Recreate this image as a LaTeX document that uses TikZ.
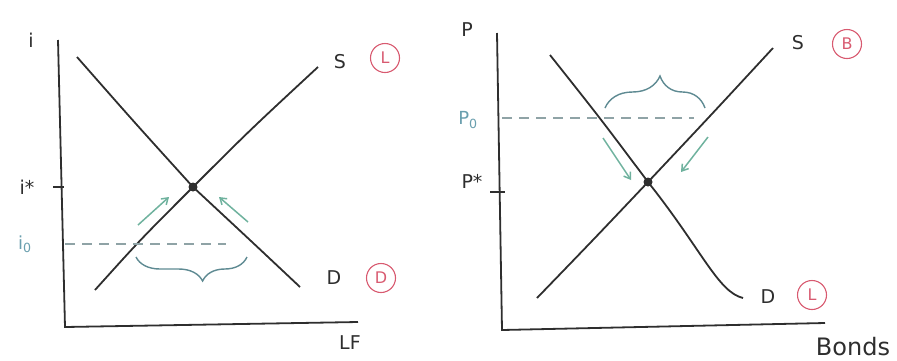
\documentclass[tikz,border=0pt]{standalone}
\usepackage{fontspec}
\setmainfont{DejaVu Sans}
\usetikzlibrary{arrows.meta,decorations.pathreplacing}
\definecolor{ink}{HTML}{2E2E2E}
\definecolor{redc}{HTML}{D85A70}
\definecolor{tealc}{HTML}{6FB29E}
\definecolor{bracec}{HTML}{5E8A92}
\definecolor{dashc}{HTML}{8FA3A6}
\definecolor{labc}{HTML}{6A9FAE}
\begin{document}
\begin{tikzpicture}[x=1pt,y=-1pt,
  axis/.style={ink,line width=1.8pt},
  curve/.style={ink,line width=1.8pt},
  lab/.style={text=ink,inner sep=0pt,font=\fontsize{19}{19}\selectfont},
  tlab/.style={text=labc,inner sep=0pt,font=\fontsize{18}{18}\selectfont},
  circ/.style={circle,draw=redc,text=redc,line width=1.1pt,inner sep=0pt,minimum size=29pt,font=\fontsize{16}{16}\selectfont},
  move/.style={tealc,line width=1.5pt,-{Straight Barb[length=6pt,width=8pt]}},
  brc/.style={bracec,line width=1.4pt,decorate},
  dsh/.style={dashc,line width=1.4pt,dash pattern=on 10pt off 7pt},
  eqdot/.style={circle,fill=ink,inner sep=0pt,minimum size=9pt},
  tickline/.style={ink,line width=1.4pt}]
\useasboundingbox (0,0) rectangle (897,360);

% ---------- left graph ----------
\coordinate (yt1) at (58,40);
\coordinate (o1) at (65,327);
\coordinate (xe1) at (358,322);
\draw[axis] (yt1) -- (o1) -- (xe1);
\node[eqdot] (eq1) at (193,187) {};
\coordinate (d1a) at (77,57);
\coordinate (d1b) at (300,287);
\coordinate (s1a) at (95,290);
\coordinate (s1b) at (318,67);
\draw[curve] (d1a) .. controls (135,123) .. (eq1.center) .. controls (250,240) .. (d1b);
\draw[curve] (s1a) .. controls (140,240) .. (eq1.center) .. controls (250,130) .. (s1b);
\coordinate (t1a) at (53,187);
\coordinate (t1b) at (64,187);
\draw[tickline] (t1a) -- (t1b);
\node[lab] (istar) at (27,187) {i*};
\coordinate (dl1a) at (65,244);
\coordinate (dl1b) at (226,244);
\draw[dsh] (dl1a) -- (dl1b);
\node[tlab] (izero) at (25,244) {i\textsubscript{0}};
\coordinate (a1s) at (138,225);
\coordinate (a1e) at (169,197);
\coordinate (a2s) at (248,222);
\coordinate (a2e) at (219,197);
\draw[move] (a1s) -- (a1e);
\draw[move] (a2s) -- (a2e);
\coordinate (b1s) at (247,257);
\coordinate (b1e) at (136,257);
\draw[brc,decoration={brace,amplitude=24pt,aspect=0.4}] (b1s) -- (b1e);
\node[lab] (iax) at (31,40) {i};
\node[lab] (lfax) at (350,343) {LF};
\node[lab] (slab1) at (340,62) {S};
\node[circ] (c1) at (385,58) {L};
\node[lab] (dlab1) at (334,278) {D};
\node[circ] (c2) at (381,278) {D};

% ---------- right graph ----------
\coordinate (yt2) at (497,33);
\coordinate (o2) at (502,330);
\coordinate (xe2) at (825,323);
\draw[axis] (yt2) -- (o2) -- (xe2);
\node[eqdot] (eq2) at (648,182) {};
\coordinate (d2a) at (550,55);
\coordinate (d2b) at (743,298);
\coordinate (s2a) at (537,298);
\coordinate (s2b) at (773,48);
\draw[curve] (d2a) .. controls (600,118) .. (eq2.center) .. controls (702,250) and (718,292) .. (d2b);
\draw[curve] (s2a) .. controls (595,238) .. (eq2.center) .. controls (712,114) .. (s2b);
\coordinate (dl2a) at (502,118);
\coordinate (dl2b) at (694,118);
\draw[dsh] (dl2a) -- (dl2b);
\node[tlab] (pzero) at (468,120) {P\textsubscript{0}};
\coordinate (t2a) at (490,192);
\coordinate (t2b) at (505,192);
\draw[tickline] (t2a) -- (t2b);
\node[lab] (pstar) at (472,181) {P*};
\coordinate (b2s) at (605,108);
\coordinate (b2e) at (705,108);
\draw[brc,decoration={brace,amplitude=32pt,aspect=0.55}] (b2s) -- (b2e);
\coordinate (a3s) at (603,138);
\coordinate (a3e) at (631,180);
\coordinate (a4s) at (708,137);
\coordinate (a4e) at (681,172);
\draw[move] (a3s) -- (a3e);
\draw[move] (a4s) -- (a4e);
\node[lab] (pax) at (467,30) {P};
\node[lab,font=\fontsize{24}{24}\selectfont] (bondsax) at (853,347) {Bonds};
\node[lab] (slab2) at (798,43) {S};
\node[circ] (c3) at (847,44) {B};
\node[lab] (dlab2) at (768,297) {D};
\node[circ] (c4) at (812,295) {L};
\end{tikzpicture}
\end{document}
